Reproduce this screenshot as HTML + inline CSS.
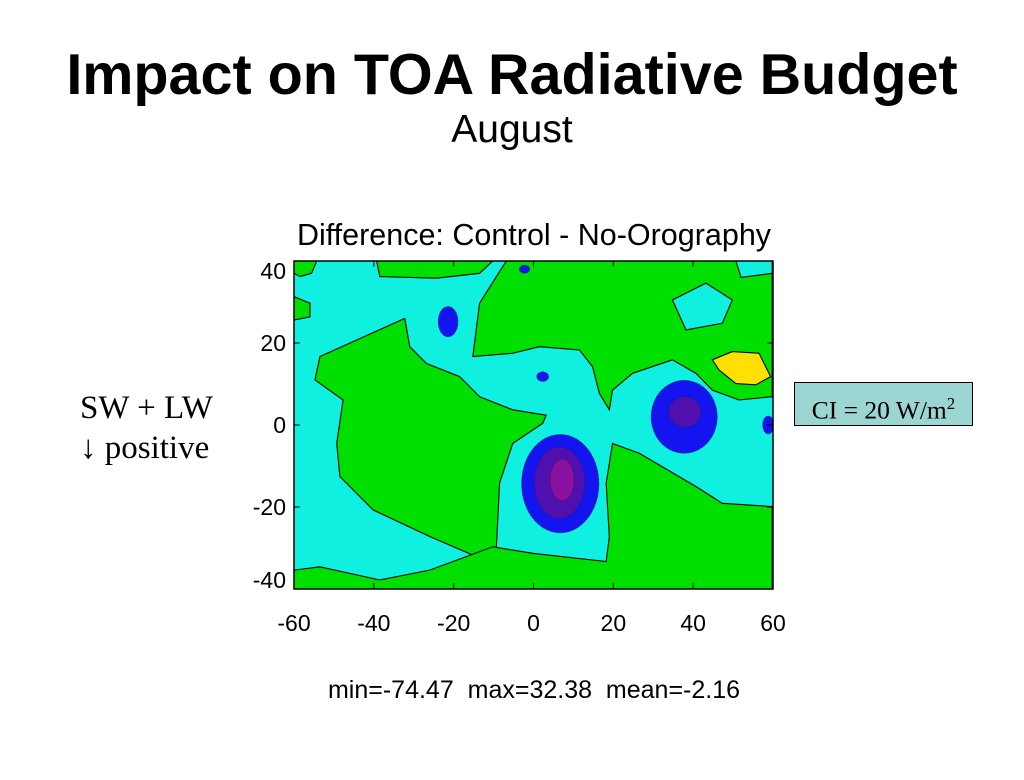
<!DOCTYPE html>
<html><head><meta charset="utf-8"><style>
body{margin:0;background:#fff;width:1024px;height:780px;overflow:hidden;font-family:"Liberation Sans",Arial,sans-serif}
.t{position:absolute;white-space:nowrap}
</style></head><body>
<div class="t" style="left:0;width:1024px;text-align:center;top:42px;font-size:57.5px;font-weight:bold;padding-right:4px">Impact on TOA Radiative Budget</div>
<div class="t" style="left:0;width:1024px;text-align:center;top:108px;font-size:39px;padding-left:0px">August</div>
<div class="t" style="left:80px;top:388px;font-family:'Liberation Serif',serif;font-size:33px;line-height:40px">SW + LW<br>↓ positive</div>
<div class="t" style="left:794px;top:382px;width:177px;height:42px;background:#9cd6d3;border:1px solid #000;font-family:'Liberation Serif',serif;font-size:25.5px;line-height:42px;text-align:center">CI = 20 W/m<sup style="font-size:17px">2</sup></div>
<svg id="chart" width="1024" height="780" style="position:absolute;left:0;top:0" font-family="Liberation Sans, Arial, sans-serif"></svg>
<script>
const lonTicks=[-60,-40,-20,0,20,40,60];
const latTicks=[40,20,0,-20,-40];
const greenTopLeft=[[-60,40],[-54.3,40],[-55.6,37],[-58.5,36.2],[-60,37]];
const greenLeftBlob=[[-60,31.3],[-56,29.7],[-56,26.4],[-60,25.6]];
const greenTopBand=[[-39.3,40],[-10.2,40],[-13.5,37],[-24.3,35.8],[-38.5,36.2]];
const greenWest=[[-54.75,11],[-53.5,16.7],[-32.25,26],[-31,19.1],[-26.8,15],[-18.5,11.8],[-13.5,6.9],[-5.2,3.7],[3.2,2.4],[2.3,0.4],[-5.2,-4.5],[-8.5,-14.2],[-9.3,-29.7],[-14.3,-32.1],[-26,-27.2],[-40.2,-20.7],[-48.5,-12.6],[-49.3,-4.5],[-47.7,6.1]];
const greenNorth=[[-15.2,16.7],[-13.5,29.7],[-9.3,36.2],[-6.8,40],[59.8,40],[59.8,6.9],[51.5,6.1],[44.8,8.5],[40.7,12.6],[34.8,15.9],[24.8,12.6],[19.8,8.5],[19,3.7],[16.5,7.7],[14.8,14.2],[11.5,18.3],[1.5,19.1],[-5.2,17.5]];
const cyanMed=[[34.8,30.5],[43.2,34.6],[49.8,30.5],[47.3,24.8],[38.2,23.2]];
const cyanTopRight=[[50.7,40],[59.8,40],[59.8,37],[52,36]];
const greenSouth=[[-60,-40],[-60,-35.4],[-53.5,-34.6],[-38.5,-37.8],[-26,-35.4],[-10.2,-29.7],[-0.2,-31.3],[18.2,-33.3],[19,-27.2],[18.2,-14.2],[19.8,-4.5],[26.5,-6.9],[40.7,-15],[47.3,-19.1],[59.8,-19.9],[59.8,-40]];
const yellowPatch=[[44.8,15.9],[49.8,17.9],[56.5,17.5],[59.4,11.8],[55.7,9.8],[50.7,10.1],[46.5,13.4]];
// blobs: lon, lat, rLon, rLat
const blobLon=[6.7,6.5,7.2,37.75,37.9,-21.4,2.3,58.8,-2.25];
const blobLat=[-14.3,-14.1,-13.4,2.0,3.2,25.2,11.8,0,38];
const blobRx=[9.7,6.3,3,8.3,4,2.5,1.5,1.4,1.3];
const blobRy=[12,8.7,5.1,8.9,3.7,3.7,1.2,2.2,1];
const blobCol=["#1414f0","#5010b0","#8a10a0","#1414f0","#5010b0","#1414f0","#1414f0","#1414f0","#1414f0"];
const X0=294,X1=773,Y0=261,Y1=589;
const xs=l=>X0+(l+60)/120*(X1-X0);
const ys=l=>Y0+(40-l)/80*(Y1-Y0);
const svg=document.getElementById('chart');
const NS='http://www.w3.org/2000/svg';
function mk(t,a){const e=document.createElementNS(NS,t);for(const k in a)e.setAttribute(k,a[k]);svg.appendChild(e);return e;}
let e=mk('rect',{x:X0,y:Y0,width:X1-X0,height:Y1-Y0,fill:'#10f0e0'});


const polys=[[greenTopLeft,'#00e000','green-region'],[greenLeftBlob,'#00e000','green-region'],[greenTopBand,'#00e000','green-region'],[greenWest,'#00e000','green-region-atlantic'],[greenNorth,'#00e000','green-region-africa'],[cyanMed,'#10f0e0','cyan-region'],[cyanTopRight,'#10f0e0','cyan-region'],[greenSouth,'#00e000','green-region-south'],[yellowPatch,'#ffe000','yellow-region']];
const g=mk('g',{'clip-path':'url(#cp)'});
const defs=mk('defs',{});defs.innerHTML='<clipPath id="cp"><rect x="'+X0+'" y="'+Y0+'" width="'+(X1-X0)+'" height="'+(Y1-Y0)+'"/></clipPath>';
polys.forEach(p=>{const el=document.createElementNS(NS,'polygon');
el.setAttribute('points',p[0].map(q=>xs(q[0])+','+ys(q[1])).join(' '));
el.setAttribute('fill',p[1]);el.setAttribute('stroke','#000');el.setAttribute('stroke-width','1.1');


g.appendChild(el);});
for(let i=0;i<blobLon.length;i++){const el=document.createElementNS(NS,'ellipse');
el.setAttribute('cx',xs(blobLon[i]));el.setAttribute('cy',ys(blobLat[i]));
el.setAttribute('rx',xs(blobRx[i])-xs(0));el.setAttribute('ry',ys(0)-ys(blobRy[i]));
el.setAttribute('fill',blobCol[i]);el.setAttribute('stroke','#222');el.setAttribute('stroke-width','0.6');el.setAttribute('stroke-dasharray','1 1');


g.appendChild(el);}
e=mk('rect',{x:X0,y:Y0,width:X1-X0,height:Y1-Y0,fill:'none',stroke:'#000','stroke-width':1.5});


lonTicks.forEach(v=>{mk('line',{x1:xs(v),x2:xs(v),y1:Y1,y2:Y1-6,stroke:'#000'});mk('line',{x1:xs(v),x2:xs(v),y1:Y0,y2:Y0+6,stroke:'#000'});
const t=mk('text',{x:xs(v),y:631,'font-size':23,'text-anchor':'middle'});t.textContent=v;

});
latTicks.forEach(v=>{mk('line',{x1:X0,x2:X0+6,y1:ys(v),y2:ys(v),stroke:'#000'});mk('line',{x1:X1,x2:X1-6,y1:ys(v),y2:ys(v),stroke:'#000'});
const yy=Math.min(Math.max(ys(v),Y0+10),Y1-9);
const t=mk('text',{x:286,y:yy+8,'font-size':23,'text-anchor':'end'});t.textContent=v;

});
let t=mk('text',{x:534,y:245,'font-size':30.5,'text-anchor':'middle'});t.textContent='Difference: Control - No-Orography';


t=mk('text',{x:534,y:698,'font-size':25,'text-anchor':'middle',style:'white-space:pre'});t.textContent='min=-74.47  max=32.38  mean=-2.16';


</script>
</body></html>
